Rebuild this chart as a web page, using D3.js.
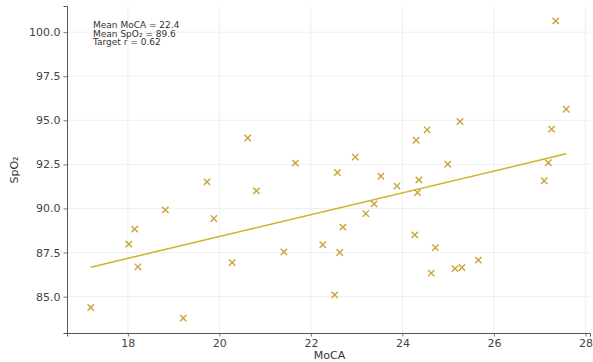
<!DOCTYPE html>
<html>
<head>
<meta charset="utf-8">
<script src="https://cdn.jsdelivr.net/npm/d3@7"></script>
<style>
  body { margin: 0; background: #fff; }
  text { font-family: "DejaVu Sans", sans-serif; }
</style>
</head>
<body>
<div id="chart"></div>
<script>
// data
var mocaValues = [17.19, 18.02, 18.15, 18.22, 18.82, 19.21, 19.73, 19.88, 20.28, 20.62,
  20.81, 21.41, 21.66, 22.26, 22.52, 22.58, 22.63, 22.70, 22.97, 23.20,
  23.38, 23.53, 23.88, 24.27, 24.30, 24.33, 24.36, 24.54, 24.63, 24.72,
  24.99, 25.15, 25.26, 25.30, 25.66, 27.10, 27.19, 27.26, 27.35, 27.58];
var spo2Values = [84.38, 87.98, 88.83, 86.69, 89.92, 83.78, 91.51, 89.43, 86.93, 94.00,
  91.00, 87.54, 92.57, 87.94, 85.10, 92.04, 87.50, 88.94, 92.91, 89.71,
  90.26, 91.83, 91.27, 88.50, 93.87, 90.90, 91.62, 94.46, 86.33, 87.78,
  92.51, 86.59, 94.93, 86.65, 87.07, 91.57, 92.59, 94.50, 100.64, 95.63];
var fitX = [17.19, 27.58];
var fitY = [86.67, 93.10];
var xTicks = [18, 20, 22, 24, 26, 28];
var yTicks = [85, 87.5, 90, 92.5, 95, 97.5, 100];
var noteLines = ["Mean MoCA = 22.4", "Mean SpO\u2082 = 89.6", "Target r = 0.62"];

var svgWidth = 593;
var svgHeight = 362;

var margin = { top: 6, right: 3, bottom: 29, left: 67 };
var width = 590 - margin.left;
var height = svgHeight - margin.top - margin.bottom;

var svg = d3.select("#chart")
  .append("svg")
  .attr("width", svgWidth)
  .attr("height", svgHeight);

var chartGroup = svg.append("g")
  .attr("transform", `translate(${margin.left}, ${margin.top})`);

var data = mocaValues.map((m, i) => ({ moca: m, spo2: spo2Values[i] }));

// matplotlib-like 5% padding around the data
var xExt = d3.extent(mocaValues), yExt = d3.extent(spo2Values);
var xPad = (xExt[1] - xExt[0]) * 0.05, yPad = (yExt[1] - yExt[0]) * 0.05;

var xScale = d3.scaleLinear()
  .domain([xExt[0] - xPad, xExt[1] + xPad])
  .range([0, width]);
var yScale = d3.scaleLinear()
  .domain([yExt[0] - yPad, yExt[1] + yPad])
  .range([height, 0]);

// grid
chartGroup.append("g")
  .selectAll("line.vg")
  .data(xTicks)
  .enter()
  .append("line")
  .attr("x1", d => xScale(d)).attr("x2", d => xScale(d))
  .attr("y1", 0).attr("y2", height)
  .attr("stroke", "#ebebeb").attr("stroke-width", 0.8);
chartGroup.append("g")
  .selectAll("line.hg")
  .data(yTicks)
  .enter()
  .append("line")
  .attr("y1", d => yScale(d)).attr("y2", d => yScale(d))
  .attr("x1", 0).attr("x2", width)
  .attr("stroke", "#ebebeb").attr("stroke-width", 0.8);

// axes
var bottomAxis = d3.axisBottom(xScale).tickValues(xTicks).tickSize(3.5).tickPadding(3)
  .tickFormat(d3.format("d"));
var leftAxis = d3.axisLeft(yScale).tickValues(yTicks).tickSize(3.5).tickPadding(3)
  .tickFormat(d3.format(".1f"));

var xAxis = chartGroup.append("g")
  .attr("transform", `translate(0, ${height})`)
  .call(bottomAxis);
var yAxis = chartGroup.append("g")
  .call(leftAxis);

[xAxis, yAxis].forEach(function(ax) {
  ax.select(".domain").attr("stroke", "#555").attr("stroke-width", 1);
  ax.selectAll(".tick line").attr("stroke", "#555").attr("stroke-width", 0.8);
  ax.selectAll(".tick text")
    .attr("fill", "#444")
    .style("font-size", "11px")
    .style("font-family", "DejaVu Sans, sans-serif");
});

// fit line
chartGroup.append("line")
  .attr("x1", xScale(fitX[0])).attr("y1", yScale(fitY[0]))
  .attr("x2", xScale(fitX[1])).attr("y2", yScale(fitY[1]))
  .attr("stroke", "#d2b126")
  .attr("stroke-width", 1.5);

// x markers
var s = 3.2;
chartGroup.selectAll("path.pt")
  .data(data)
  .enter()
  .append("path")
  .attr("d", function(d) {
    var cx = xScale(d.moca), cy = yScale(d.spo2);
    return `M${cx - s},${cy - s}L${cx + s},${cy + s}M${cx - s},${cy + s}L${cx + s},${cy - s}`;
  })
  .attr("stroke", "#c9a435")
  .attr("stroke-width", 1.4)
  .attr("fill", "none");

// note text
var note = chartGroup.append("text")
  .attr("x", 26)
  .attr("y", 22)
  .attr("fill", "#333")
  .style("font-size", "9px");
note.selectAll("tspan")
  .data(noteLines)
  .enter()
  .append("tspan")
  .attr("x", 26)
  .attr("dy", (d, i) => i === 0 ? 0 : 8.5)
  .text(d => d);

// axis labels
chartGroup.append("text")
  .attr("x", width / 2 + 1)
  .attr("y", height + 26)
  .attr("text-anchor", "middle")
  .attr("fill", "#333")
  .style("font-size", "11px")
  .text("MoCA");

chartGroup.append("text")
  .attr("transform", "rotate(-90)")
  .attr("x", -(170 - margin.top))
  .attr("y", -49)
  .attr("text-anchor", "middle")
  .attr("fill", "#333")
  .style("font-size", "11px")
  .text("SpO\u2082");
</script>
</body>
</html>
